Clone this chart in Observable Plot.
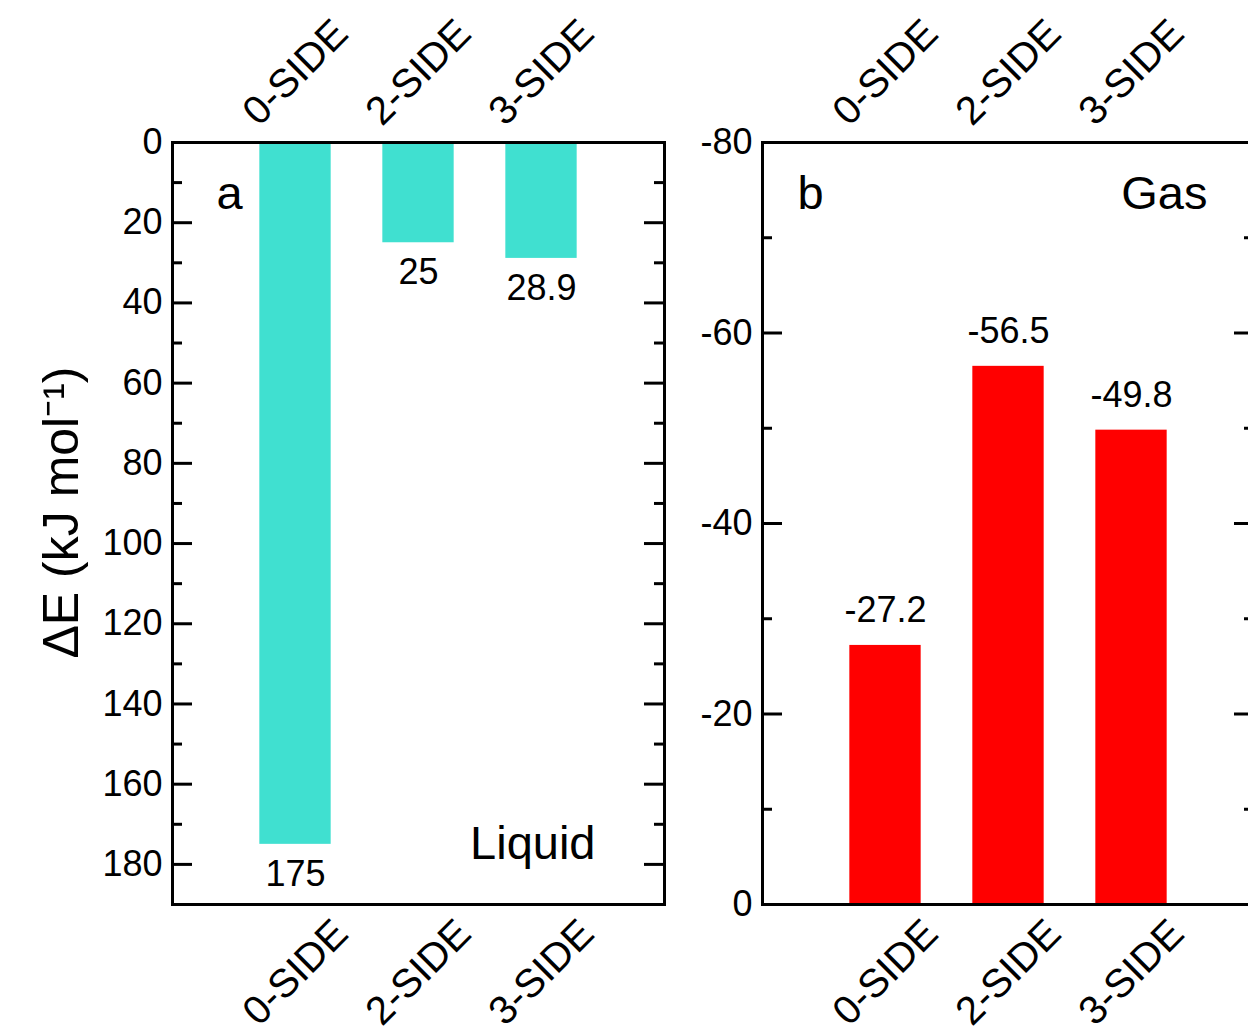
<!DOCTYPE html>
<html>
<head>
<meta charset="utf-8">
<script src="https://cdn.jsdelivr.net/npm/d3@7"></script>
<script src="https://cdn.jsdelivr.net/npm/@observablehq/plot@0.6"></script>
<style>
  html, body { margin: 0; padding: 0; background: #fff; overflow: hidden; }
  #wrap { position: relative; width: 1248px; height: 1029px; overflow: hidden; background: #fff; }
  #wrap > div, #wrap > svg { position: absolute; top: 0; }
</style>
</head>
<body>
<div id="wrap"></div>
<script>
// ---- data ----
const categories = ["0-SIDE", "2-SIDE", "3-SIDE"];
const liquidValues = [175, 25, 28.9];
const liquidLabels = ["175", "25", "28.9"];
const gasValues = [-27.2, -56.5, -49.8];
const gasLabels = ["-27.2", "-56.5", "-49.8"];
const liquidMajorTicks = [0, 20, 40, 60, 80, 100, 120, 140, 160, 180];
const liquidMinorTicks = [10, 30, 50, 70, 90, 110, 130, 150, 170];
const gasMajorTicks = [-80, -60, -40, -20, 0];
const gasMinorTicks = [-70, -50, -30, -10];
const yLabel = "ΔE (kJ mol⁻¹)";

const FONT = "'Liberation Sans', Arial, Helvetica, sans-serif";
const FRAME_W = 492;
const BAR_HALF = 0.29;

function panel({values, labels, majors, minors, yDomain, reverse, color, labelDy,
                marginLeft, marginRight, letter, letterDx, phase, extra}) {
  const data = categories.map((c, i) => ({c, pos: i + 1, v: values[i], label: labels[i]}));
  return Plot.plot({
    width: 700,
    height: 1029,
    marginLeft, marginRight,
    marginTop: 142,
    marginBottom: 125,
    style: {fontFamily: FONT, background: "transparent", color: "black", overflow: "visible"},
    x: {domain: [0, 4], axis: null},
    y: {domain: yDomain, reverse, axis: null},
    marks: [
      Plot.rect(data, {x1: d => d.pos - BAR_HALF, x2: d => d.pos + BAR_HALF, y1: 0, y2: "v", fill: color}),
      // inward ticks, left and right
      Plot.ruleY(majors, {insetRight: FRAME_W - 20, stroke: "black", strokeWidth: 3}),
      Plot.ruleY(majors, {insetLeft: FRAME_W - 20, stroke: "black", strokeWidth: 3}),
      Plot.ruleY(minors, {insetRight: FRAME_W - 10, stroke: "black", strokeWidth: 3}),
      Plot.ruleY(minors, {insetLeft: FRAME_W - 10, stroke: "black", strokeWidth: 3}),
      Plot.frame({stroke: "black", strokeWidth: 3}),
      Plot.axisY({ticks: majors, tickSize: 0, tickPadding: 10, label: null, fontSize: 36, tickFormat: d => String(d)}),
      // value labels
      Plot.text(data, {x: "pos", y: "v", text: "label", dy: labelDy, fontSize: 36, lineAnchor: "middle"}),
      // category labels top & bottom
      Plot.text(data, {x: "pos", text: "c", frameAnchor: "top", dy: -70, rotate: -45, fontSize: 40, textAnchor: "middle", lineAnchor: "middle"}),
      Plot.text(data, {x: "pos", text: "c", frameAnchor: "bottom", dy: 68, rotate: -45, fontSize: 40, textAnchor: "middle", lineAnchor: "middle"}),
      // panel letter
      Plot.text([letter], {frameAnchor: "top-left", dx: letterDx, dy: 51, textAnchor: "start", lineAnchor: "middle", fontSize: 47}),
      Plot.text([phase.text], {frameAnchor: phase.anchor, dx: phase.dx, dy: phase.dy, textAnchor: "end", lineAnchor: "middle", fontSize: 47}),
      ...(extra || [])
    ]
  });
}

const wrap = document.getElementById("wrap");

const a = panel({
  values: liquidValues, labels: liquidLabels, majors: liquidMajorTicks, minors: liquidMinorTicks,
  yDomain: [0, 190], reverse: true, color: "#40E0D0", labelDy: 30,
  marginLeft: 172, marginRight: 36, letter: "a", letterDx: 44,
  phase: {text: "Liquid", anchor: "bottom-right", dx: -69, dy: -61},
  extra: [Plot.text([yLabel], {frameAnchor: "left", dx: -111, dy: -11, rotate: -90, textAnchor: "middle", lineAnchor: "middle", fontSize: 50})]
});
a.style.left = "0px";
wrap.appendChild(a);

const b = panel({
  values: gasValues, labels: gasLabels, majors: gasMajorTicks, minors: gasMinorTicks,
  yDomain: [0, -80], reverse: false, color: "#FF0000", labelDy: -35,
  marginLeft: 162, marginRight: 46, letter: "b", letterDx: 35,
  phase: {text: "Gas", anchor: "top-right", dx: -47, dy: 51}
});
b.style.left = "600px";
wrap.appendChild(b);
</script>
</body>
</html>
